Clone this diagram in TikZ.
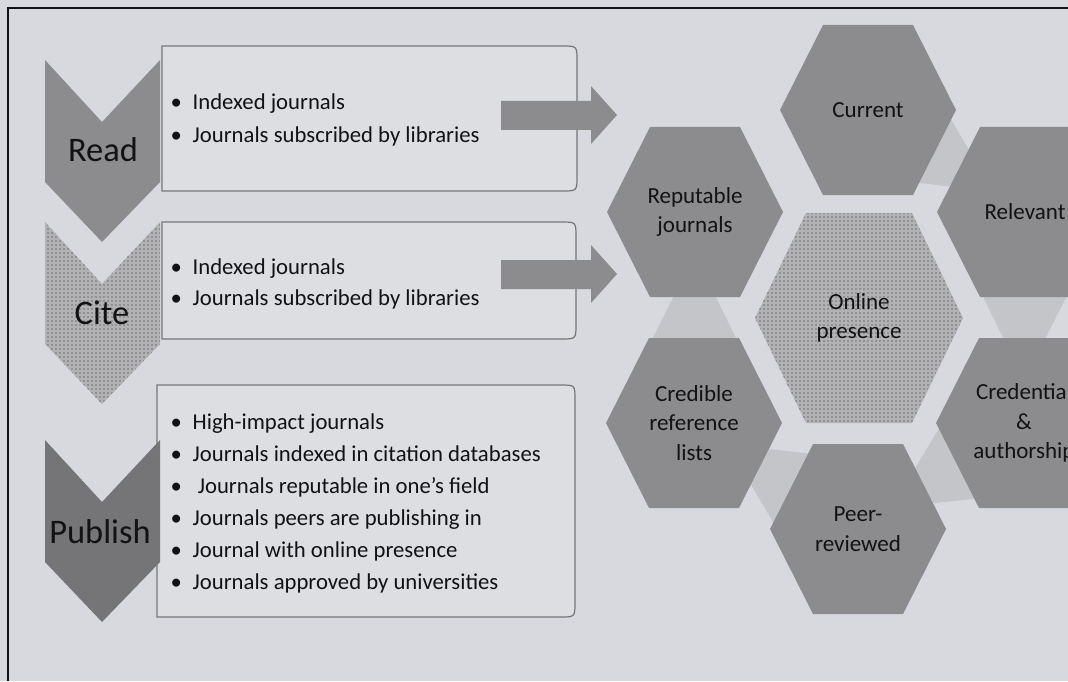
\documentclass[tikz,border=0pt]{standalone}
\usepackage{fontspec}
\setmainfont{Carlito}
\usetikzlibrary{calc,patterns.meta}

\definecolor{paper}{RGB}{216,217,222}
\definecolor{boxpaper}{RGB}{221,222,226}
\definecolor{boxline}{RGB}{118,118,121}
\definecolor{ink}{RGB}{18,18,20}
\definecolor{shade}{RGB}{140,140,143}
\definecolor{darkshade}{RGB}{117,117,120}
\definecolor{dotshade}{RGB}{178,178,181}
\definecolor{dotink}{RGB}{112,112,115}
\definecolor{linkshade}{RGB}{196,197,201}

\newcommand{\itemfont}{\fontsize{6.46}{8}\selectfont}
\newcommand{\stagefont}{\fontsize{9.8}{11}\selectfont}
\newcommand{\hexfont}{\fontsize{6.55}{8.4}\selectfont}

\tikzset{
  frame/.style={draw=ink, line width=0.25mm},
  listbox/.style={draw=boxline, fill=boxpaper, line width=0.12mm},
  chevronplain/.style={fill=shade},
  chevrondark/.style={fill=darkshade},
  chevrondots/.style={fill=dotshade,
    postaction={pattern={Dots[distance=0.4mm,radius=0.09mm]}, pattern color=dotink}},
  stagelabel/.style={inner sep=0pt, text=ink, font=\stagefont},
  listitem/.style={anchor=base west, inner sep=0pt, text=ink, font=\itemfont},
  blockarrow/.style={fill=shade},
  hexlink/.style={fill=linkshade},
  hexagon/.style={fill=shade},
  hexcentre/.style={fill=dotshade,
    postaction={pattern={Dots[distance=0.4mm,radius=0.09mm]}, pattern color=dotink}},
  hexlabel/.style={inner sep=0pt, align=center, text=ink, font=\hexfont}
}

\begin{document}
\begin{tikzpicture}[x=0.1mm,y=-0.1mm]
  \useasboundingbox (0,0) rectangle (1068,681);
  \clip (0,0) rectangle (1068,681);
  \fill[paper] (0,0) rectangle (1068,681);
  \draw[frame] (1068,8) -- (8,8) -- (8,681);

  % boxes behind the chevrons
  \foreach \xa/\ya/\xb/\yb in {162/46/577/191, 162/222/576/339, 157/385/575/617}
    \draw[listbox] (\xa,\ya) -- (\xb-15,\ya) .. controls (\xb,\ya) .. (\xb,\ya+15)
      -- (\xb,\yb-15) .. controls (\xb,\yb) .. (\xb-15,\yb) -- (\xa,\yb) -- cycle;

  % chevrons
  \foreach \top/\sty in {60/chevronplain, 222/chevrondots, 440/chevrondark}
    \fill[\sty] (45,\top) -- (102,\top+62) -- (160,\top) -- (160,\top+122)
      -- (102,\top+182) -- (45,\top+122) -- cycle;
  \node[stagelabel] (read) at (103,150) {Read};
  \node[stagelabel] (cite) at (102,313) {Cite};
  \node[stagelabel] (publish) at (100,532) {Publish};

  % bullet lists
  \foreach \txt [count=\i] in {Indexed journals, Journals subscribed by libraries}
    \node[listitem] (read-\i) at (170,{77+33*\i}) {\makebox[2.2mm][l]{•}\txt};
  \foreach \txt [count=\i] in {Indexed journals, Journals subscribed by libraries}
    \node[listitem] (cite-\i) at (170,{243+31*\i}) {\makebox[2.2mm][l]{•}\txt};
  \foreach \txt [count=\i] in {High-impact journals, Journals indexed in citation databases,
      \ Journals reputable in one’s field, Journals peers are publishing in,
      Journal with online presence, Journals approved by universities}
    \node[listitem] (publish-\i) at (170,{397+32*\i}) {\makebox[2.2mm][l]{•}\txt};

  % arrows into the cluster
  \foreach \dy in {0,159}
    \fill[blockarrow] (501,101+\dy) -- (591,101+\dy) -- (591,86+\dy) -- (617,115+\dy)
      -- (591,144+\dy) -- (591,130+\dy) -- (501,130+\dy) -- cycle;

  % hexagon centres
  \foreach \name/\cx/\cy in {current/868/110, relevant/1025/212, credential/1024/423,
      peer/858/529, credible/694/423, reputable/695/212, online/859/318}
    \coordinate (\name) at (\cx,\cy);

  % light links between neighbours
  \foreach \p/\n in {current/relevant, relevant/credential, credential/peer,
      peer/credible, credible/reputable} {
    \coordinate (base) at ($(\p)!0.27!(\n)$);
    \fill[hexlink] ($(\p)!0.8!(\n)$) -- ($(base)!0.36!90:(\n)$)
      -- ($(base)!0.36!-90:(\n)$) -- cycle;
  }

  % outer hexagons
  \foreach \name/\txt in {current/Current, relevant/Relevant,
      credential/Credential\\\&\\authorship, peer/Peer-\\reviewed,
      credible/Credible\\reference\\lists, reputable/Reputable\\journals} {
    \fill[hexagon, shift={(\name)}] (-88,0) -- (-45,-85) -- (45,-85) -- (88,0)
      -- (45,85) -- (-45,85) -- cycle;
    \node[hexlabel] (\name-label) at (\name) {\txt};
  }

  % centre hexagon
  \fill[hexcentre, shift={(online)}] (-104,0) -- (-53,-105) -- (53,-105) -- (104,0)
    -- (53,105) -- (-53,105) -- cycle;
  \node[hexlabel] (online-label) at (online) {Online\\presence};
\end{tikzpicture}
\end{document}
